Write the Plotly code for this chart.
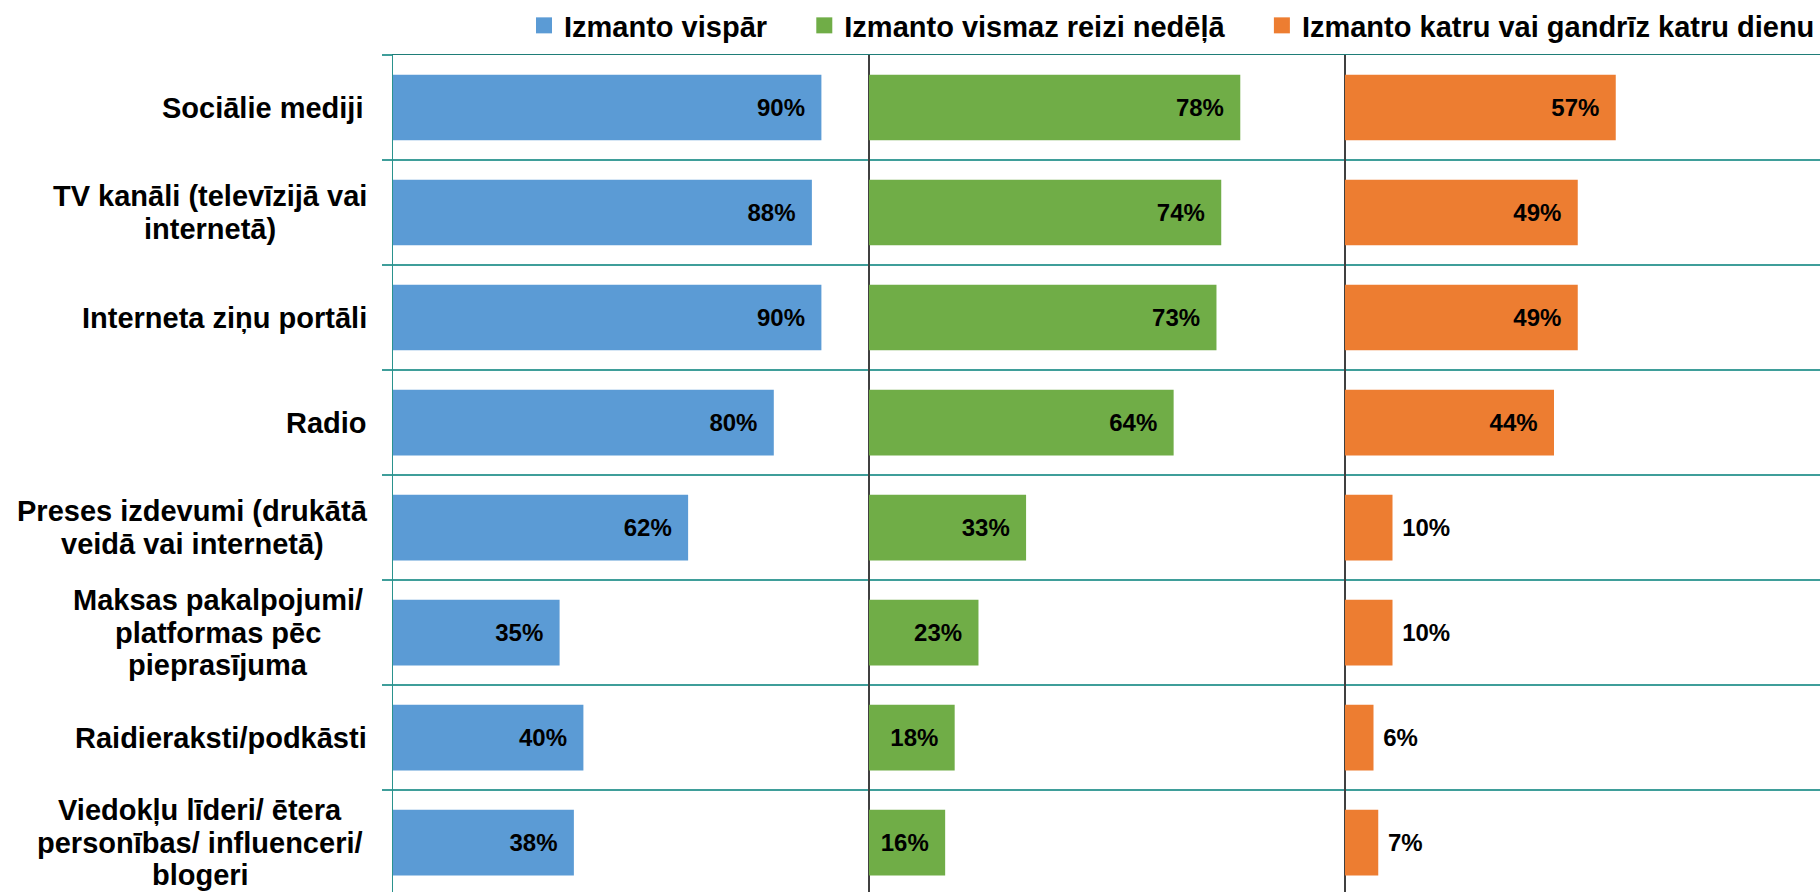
import plotly.graph_objects as go

# ---------------- data ----------------
categories = [
    "Sociālie mediji",
    "TV kanāli (televīzijā vai internetā)",
    "Interneta ziņu portāli",
    "Radio",
    "Preses izdevumi (drukātā veidā vai internetā)",
    "Maksas pakalpojumi/ platformas pēc pieprasījuma",
    "Raidieraksti/podkāsti",
    "Viedokļu līderi/ ētera personības/ influenceri/ blogeri",
]
label_lines = [
    ["Sociālie mediji "],
    ["TV kanāli (televīzijā vai", "internetā)"],
    ["Interneta ziņu portāli"],
    ["Radio"],
    ["Preses izdevumi (drukātā", "veidā vai internetā)"],
    ["Maksas pakalpojumi/ ", "platformas pēc", "pieprasījuma"],
    ["Raidieraksti/podkāsti"],
    ["Viedokļu līderi/ ētera", "personības/ influenceri/ ", "blogeri"],
]
vispar = [90, 88, 90, 80, 62, 35, 40, 38]
nedela = [78, 74, 73, 64, 33, 23, 18, 16]
katru = [57, 49, 49, 44, 10, 10, 6, 7]
series_names = [
    "Izmanto vispār",
    "Izmanto vismaz reizi nedēļā",
    "Izmanto katru vai gandrīz katru dienu",
]
colors = ["#5B9BD5", "#70AD47", "#ED7D31"]

# ---------------- style ----------------
W, H = 1820, 892
FONT = "Liberation Sans, Arial, sans-serif"
TEAL = "#3f9e9a"
TEAL_DARK = "#1f7d78"
LABEL_SIZE = 29
VALUE_SIZE = 24
NBSP = "\u00a0"

# Arial/Liberation Sans Bold advance widths (1/1000 em)
_w = {
    " ": 278, "(": 333, ")": 333, "/": 278,
    "a": 556, "b": 611, "c": 556, "d": 611, "e": 556, "f": 333, "g": 611,
    "h": 611, "i": 278, "j": 278, "k": 556, "l": 278, "m": 889, "n": 611,
    "o": 611, "p": 611, "q": 611, "r": 389, "s": 556, "t": 333, "u": 611,
    "v": 556, "w": 778, "x": 556, "y": 556, "z": 500,
    "ā": 556, "ē": 556, "ī": 278, "ņ": 611, "ļ": 278, "ū": 611,
    "I": 278, "M": 833, "P": 667, "R": 722, "S": 667, "T": 611, "V": 667,
}


def text_width(s, size):
    return sum(_w.get(ch, 556) for ch in s) * size / 1000.0


fig = go.Figure()
axes = ["x", "x2", "x3"]
n_series = len(series_names)
for k, (vals, name, color, ax) in enumerate(zip([vispar, nedela, katru], series_names, colors, axes)):
    pos = ["inside" if v >= 15 else "outside" for v in vals]
    txt = [
        f"<b>{v}%</b>{NBSP}{NBSP}" if p == "inside" else f"{NBSP}<b>{v}%</b>"
        for v, p in zip(vals, pos)
    ]
    fig.add_trace(go.Bar(
        x=vals, y=categories, orientation="h", xaxis=ax, yaxis="y",
        marker=dict(color=color, line=dict(width=0)),
        text=txt, textposition=pos, insidetextanchor="end",
        textfont=dict(family=FONT, size=VALUE_SIZE, color="black"),
        constraintext="none", cliponaxis=False,
        showlegend=False, hoverinfo="skip", width=0.625,
    ))
    legend_name = name + (NBSP * 4 if k < n_series - 1 else "")
    fig.add_trace(go.Scatter(
        x=[None], y=[None], mode="markers", xaxis=ax, yaxis="y",
        marker=dict(symbol="square", size=16, color=color),
        name=legend_name, hoverinfo="skip",
    ))

edges = [393, 869, 1345, 1820]
layout = dict(
    width=W, height=H,
    margin=dict(l=0, r=0, t=55, b=0, pad=0),
    paper_bgcolor="white", plot_bgcolor="white",
    barmode="overlay", hovermode=False,
    font=dict(family=FONT, color="black"),
    showlegend=True,
    legend=dict(
        orientation="h", x=1.0, xanchor="right", y=1.0, yanchor="top",
        yref="container", traceorder="normal", itemwidth=30,
        font=dict(family=FONT, size=LABEL_SIZE, color="black", weight="bold"),
        bgcolor="rgba(0,0,0,0)",
    ),
    yaxis=dict(
        domain=[0, 1], type="category", categoryorder="array",
        categoryarray=categories, range=[7.47, -0.5], anchor="x",
        tickson="boundaries", showgrid=True, gridcolor=TEAL, gridwidth=1.5,
        ticks="outside", ticklen=10, tickcolor=TEAL, tickwidth=1.5,
        showticklabels=False, showline=True, linecolor="#2a928d", linewidth=1.5,
        zeroline=False, fixedrange=True,
    ),
)
for i, key in enumerate(["xaxis", "xaxis2", "xaxis3"]):
    layout[key] = dict(
        domain=[edges[i] / W, edges[i + 1] / W], range=[0, 100], anchor="y",
        side="top", showline=True, linecolor=TEAL_DARK, linewidth=1.5,
        showgrid=False, showticklabels=False, ticks="",
        zeroline=(i > 0), zerolinecolor="#404040", zerolinewidth=1.2,
        fixedrange=True,
    )
fig.update_layout(**layout)

# category labels: block right-aligned, lines centred
R = 367
LH = 32.5
for cat, lines in zip(categories, label_lines):
    bw = max(text_width(l, LABEL_SIZE) for l in lines)
    cx = R - bw / 2
    n = len(lines)
    for i, l in enumerate(lines):
        fig.add_annotation(
            x=cx / W, xref="paper", y=cat, yref="y",
            text=l.rstrip(), showarrow=False,
            xanchor="center", yanchor="middle",
            yshift=((n - 1) / 2 - i) * LH,
            font=dict(family=FONT, size=LABEL_SIZE, color="black", weight="bold"),
        )

fig.write_html(
    "out.html",
    config={"displayModeBar": False, "staticPlot": True},
    post_script="document.body.style.margin='0px';document.body.style.overflow='hidden';",
)
